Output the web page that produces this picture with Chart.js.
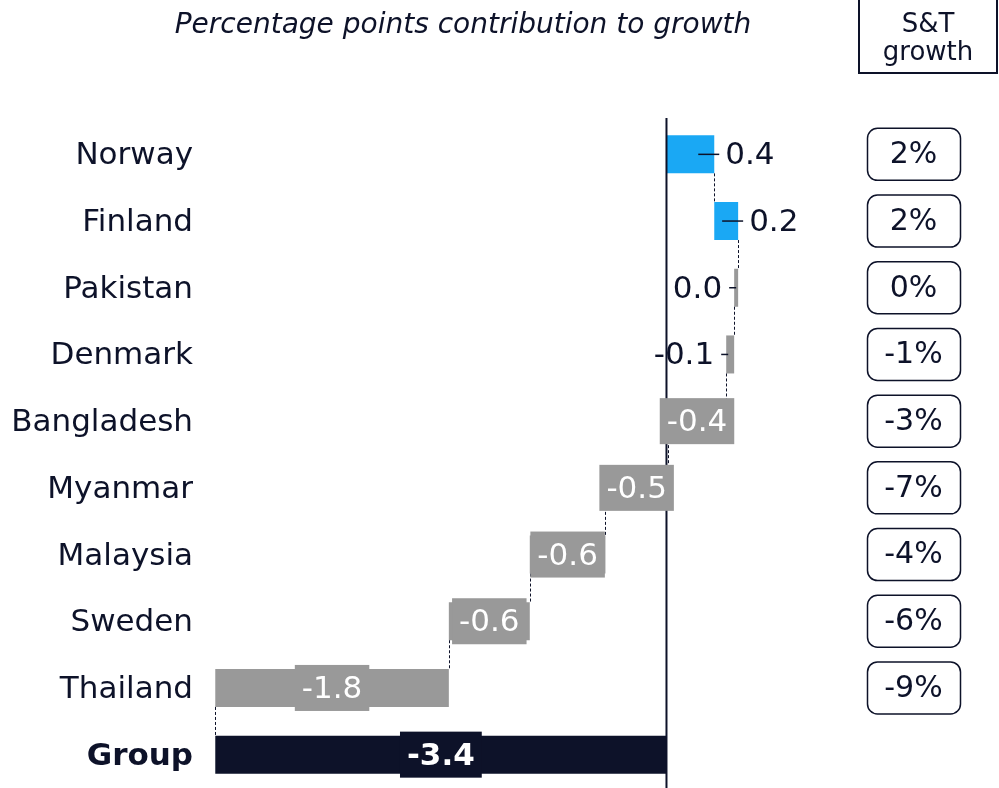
<!DOCTYPE html>
<html>
<head>
<meta charset="utf-8">
<script src="https://cdn.jsdelivr.net/npm/chart.js@4"></script>
<style>
  body { margin: 0; background: #fff; }
  #wrap { width: 999px; height: 788px; position: relative; }
</style>
</head>
<body>
<div id="wrap"><canvas id="chart"></canvas></div>
<script>
// data
const countries = ['Norway', 'Finland', 'Pakistan', 'Denmark', 'Bangladesh', 'Myanmar', 'Malaysia', 'Sweden', 'Thailand', 'Group'];
const contributions = [0.36, 0.18, -0.03, -0.06, -0.44, -0.47, -0.57, -0.61, -1.76];
const groupTotal = -3.4;
const stGrowth = [2, 2, 0, -1, -3, -7, -4, -6, -9];
const titleText = 'Percentage points contribution to growth';
const growthHeader = ['S&T', 'growth'];

const navy = '#0d1229';
const blue = '#1aa8f4';
const grey = '#999999';
const family = "'DejaVu Sans', Verdana, sans-serif";

// floating bars for the waterfall
let run = 0;
const ranges = contributions.map((v) => {
  const r = [run, run + v];
  run += v;
  return r;
});
ranges.push([0, groupTotal]);
const colors = ranges.map((r, i) => i === ranges.length - 1 ? navy : (r[1] - r[0] > 0 ? blue : grey));

const fmt = (v) => {
  const r = Math.round(v * 10) / 10;
  return (r === 0 ? 0 : r).toFixed(1);
};

const waterfallDecor = {
  id: 'waterfallDecor',
  afterDatasetsDraw(chart) {
    const { ctx, chartArea, scales: { x } } = chart;
    const bars = chart.getDatasetMeta(0).data;
    const zero = x.getPixelForValue(0);
    ctx.save();

    // zero line
    ctx.strokeStyle = navy;
    ctx.lineWidth = 2;
    ctx.beginPath();
    ctx.moveTo(zero, chartArea.top - 3);
    ctx.lineTo(zero, chart.height);
    ctx.stroke();

    // dashed connectors
    ctx.lineWidth = 1;
    ctx.setLineDash([3, 2]);
    for (let i = 0; i < bars.length - 1; i++) {
      const px = Math.round(x.getPixelForValue(ranges[i][1])) + 0.5;
      ctx.beginPath();
      ctx.moveTo(px, bars[i].y + bars[i].height / 2);
      ctx.lineTo(px, bars[i + 1].y - bars[i + 1].height / 2);
      ctx.stroke();
    }
    ctx.setLineDash([]);

    // value labels
    bars.forEach((bar, i) => {
      const [a, b] = ranges[i];
      const v = b - a;
      const left = x.getPixelForValue(Math.min(a, b));
      const right = x.getPixelForValue(Math.max(a, b));
      const isGroup = i === bars.length - 1;
      const txt = fmt(v);
      ctx.font = (isGroup ? 'bold ' : '') + '31px ' + family;
      ctx.textBaseline = 'middle';
      if (v > 0) {
        ctx.strokeStyle = navy;
        ctx.lineWidth = 1.5;
        ctx.beginPath();
        ctx.moveTo(right - 16, bar.y);
        ctx.lineTo(right + 5, bar.y);
        ctx.stroke();
        ctx.fillStyle = navy;
        ctx.textAlign = 'left';
        ctx.fillText(txt, right + 11, bar.y + 2);
      } else if (!isGroup && Math.abs(v) < 0.1) {
        ctx.strokeStyle = navy;
        ctx.lineWidth = 1.5;
        ctx.beginPath();
        ctx.moveTo(left - 5, bar.y);
        ctx.lineTo(left + 2, bar.y);
        ctx.stroke();
        ctx.fillStyle = navy;
        ctx.textAlign = 'right';
        ctx.fillText(txt, left - 12, bar.y + 2);
      } else {
        const cx = (left + right) / 2;
        const w = ctx.measureText(txt).width + 14;
        ctx.fillStyle = colors[i];
        ctx.fillRect(cx - w / 2, bar.y - bar.height / 2 - 4, w, bar.height + 8);
        ctx.fillStyle = '#ffffff';
        ctx.textAlign = 'center';
        ctx.fillText(txt, cx, bar.y + 2);
      }
    });

    // S&T growth boxes
    ctx.strokeStyle = navy;
    ctx.lineWidth = 1.5;
    ctx.font = '30px ' + family;
    ctx.textAlign = 'center';
    ctx.textBaseline = 'middle';
    stGrowth.forEach((g, i) => {
      const cy = bars[i].y;
      ctx.beginPath();
      ctx.roundRect(867.5, cy - 26, 93, 52, 10);
      ctx.stroke();
      ctx.fillStyle = navy;
      ctx.fillText(g + '%', 913.5, cy + 1);
    });

    // header box
    ctx.lineWidth = 2;
    ctx.strokeRect(859, -5, 138, 78);
    ctx.font = '26px ' + family;
    ctx.textBaseline = 'alphabetic';
    ctx.fillText(growthHeader[0], 928, 32);
    ctx.fillText(growthHeader[1], 928, 60);

    // title
    ctx.font = 'italic 28px ' + family;
    ctx.fillText(titleText, 463, 33);
    ctx.restore();
  }
};

new Chart(document.getElementById('chart'), {
  type: 'bar',
  data: {
    labels: countries,
    datasets: [{
      data: ranges,
      backgroundColor: colors,
      borderWidth: 0,
      barPercentage: 0.57,
      categoryPercentage: 1
    }]
  },
  options: {
    responsive: true,
    maintainAspectRatio: false,
    animation: false,
    indexAxis: 'y',
    layout: { padding: { top: 121, right: 160, bottom: 0, left: 0 } },
    plugins: {
      legend: { display: false },
      tooltip: { enabled: false }
    },
    scales: {
      x: { display: false, min: -3.5, max: 1.3 },
      y: {
        grid: { display: false, drawTicks: false },
        border: { display: false },
        ticks: {
          padding: 9,
          labelOffset: 2,
          color: navy,
          font: (c) => ({ family: family, size: 31, weight: c.index === countries.length - 1 ? 'bold' : 'normal' })
        },
        afterFit: (s) => {
          s.width = 202;
          s.paddingTop = 0;
          s.paddingBottom = 0;
        }
      }
    }
  },
  plugins: [waterfallDecor]
});
</script>
</body>
</html>
